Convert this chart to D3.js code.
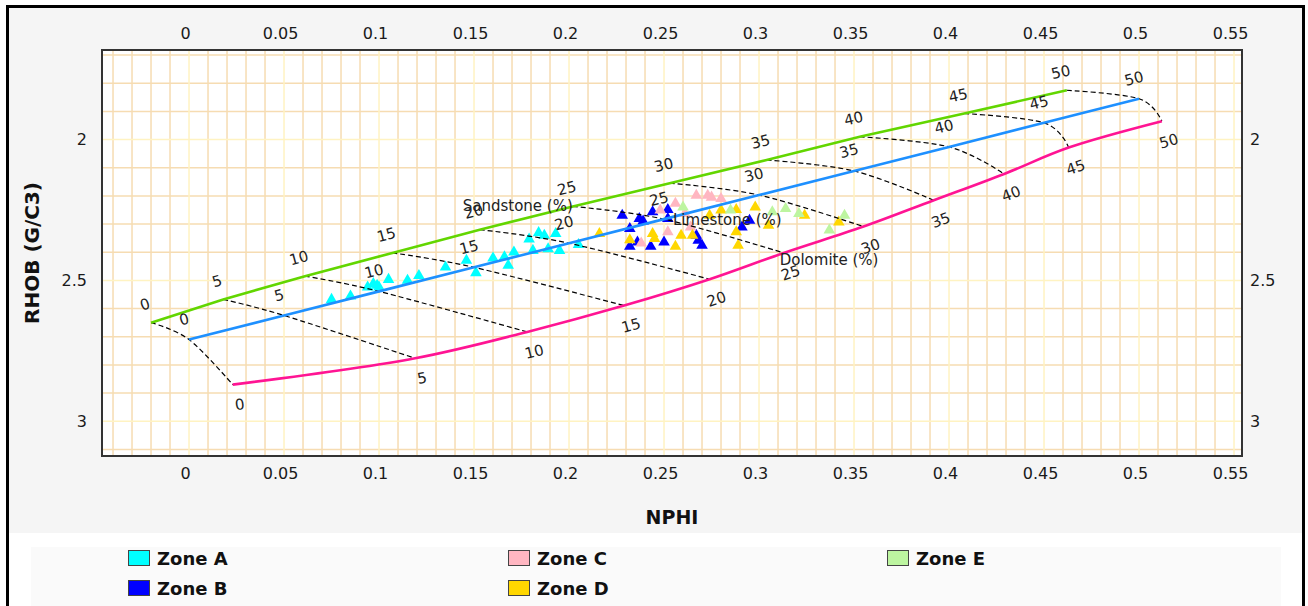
<!DOCTYPE html>
<html>
<head>
<meta charset="utf-8">
<script src="https://cdn.jsdelivr.net/npm/d3@7"></script>
<style>
  html, body { margin: 0; padding: 0; background: #ffffff; }
  svg { display: block; font-family: "DejaVu Sans", Verdana, sans-serif; }
</style>
</head>
<body>
<svg id="chart" width="1308" height="606"></svg>
<script>
// ---------------- DATA ----------------
const porosityLabels = ["0","5","10","15","20","25","30","35","40","45","50"];

const sandstoneNPHI = [-0.020, 0.018, 0.061, 0.107, 0.153, 0.202, 0.253, 0.304, 0.353, 0.408, 0.462];
const sandstoneRHOB = [2.650, 2.5675, 2.485, 2.4025, 2.320, 2.2375, 2.155, 2.0725, 1.990, 1.9075, 1.825];

const limestoneNPHI = [0.00, 0.05, 0.10, 0.15, 0.20, 0.25, 0.30, 0.35, 0.40, 0.45, 0.50];
const limestoneRHOB = [2.710, 2.6245, 2.539, 2.4535, 2.368, 2.2825, 2.197, 2.1115, 2.026, 1.9405, 1.855];

const dolomiteNPHI = [0.023, 0.119, 0.178, 0.229, 0.274, 0.313, 0.355, 0.392, 0.429, 0.463, 0.512];
const dolomiteRHOB = [2.870, 2.7765, 2.683, 2.5895, 2.496, 2.4025, 2.309, 2.2155, 2.122, 2.0285, 1.935];

const xTicks = [0, 0.05, 0.1, 0.15, 0.2, 0.25, 0.3, 0.35, 0.4, 0.45, 0.5, 0.55];
const yTicks = [2, 2.5, 3];

const zoneNames = ["Zone A", "Zone B", "Zone C", "Zone D", "Zone E"];
const zoneColors = ["#00ffff", "#0000ff", "#ffb6c1", "#ffd700", "#bdf5a0"];

const zoneA_NPHI = [0.075, 0.085, 0.094, 0.097, 0.099, 0.100, 0.105, 0.115, 0.121, 0.135, 0.146, 0.151, 0.160, 0.166, 0.168, 0.171, 0.179, 0.181, 0.184, 0.187, 0.189, 0.193, 0.195, 0.205];
const zoneA_RHOB = [2.568, 2.556, 2.524, 2.512, 2.518, 2.524, 2.497, 2.500, 2.483, 2.453, 2.429, 2.473, 2.421, 2.417, 2.447, 2.400, 2.354, 2.394, 2.331, 2.340, 2.388, 2.334, 2.394, 2.373];

const zoneB_NPHI = [0.228, 0.237, 0.239, 0.232, 0.232, 0.236, 0.243, 0.244, 0.252, 0.252, 0.250, 0.267, 0.268, 0.270, 0.291, 0.295];
const zoneB_RHOB = [2.269, 2.281, 2.290, 2.316, 2.379, 2.364, 2.379, 2.257, 2.249, 2.281, 2.364, 2.340, 2.358, 2.376, 2.311, 2.287];

const zoneC_NPHI = [0.238, 0.248, 0.256, 0.252, 0.261, 0.264, 0.267, 0.273, 0.275, 0.280];
const zoneC_RHOB = [2.368, 2.251, 2.227, 2.328, 2.262, 2.311, 2.198, 2.198, 2.205, 2.210];

const zoneD_NPHI = [0.216, 0.232, 0.244, 0.245, 0.256, 0.259, 0.265, 0.274, 0.280, 0.288, 0.298, 0.288, 0.289, 0.305, 0.324, 0.342];
const zoneD_RHOB = [2.334, 2.356, 2.334, 2.352, 2.379, 2.340, 2.340, 2.269, 2.251, 2.249, 2.240, 2.328, 2.376, 2.305, 2.269, 2.293];

const zoneE_NPHI = [0.260, 0.285, 0.307, 0.314, 0.321, 0.337, 0.345];
const zoneE_RHOB = [2.240, 2.251, 2.257, 2.245, 2.263, 2.322, 2.269];

// ---------------- LAYOUT ----------------
const svg = d3.select("#chart");
const W = 1308, H = 606;
const P = { left: 102, right: 1242, top: 50, bottom: 456 };

const x = d3.scaleLinear().domain([-0.0458, 0.5542]).range([P.left, P.right]);
const y = d3.scaleLinear().domain([1.682, 3.1235]).range([P.top, P.bottom]);

// backgrounds
svg.append("rect").attr("x", 0).attr("y", 0).attr("width", W).attr("height", H).attr("fill", "#ffffff");
svg.append("rect").attr("x", 9).attr("y", 8).attr("width", 1293).attr("height", 525).attr("fill", "#f5f5f5");
svg.append("rect").attr("x", 31).attr("y", 547).attr("width", 1250).attr("height", 70).attr("fill", "#fafafa");
svg.append("rect").attr("x", 7.5).attr("y", 6.5).attr("width", 1296).attr("height", 640)
  .attr("fill", "none").attr("stroke", "#000").attr("stroke-width", 3);

// plot area
svg.append("rect").attr("x", P.left).attr("y", P.top).attr("width", P.right - P.left).attr("height", P.bottom - P.top)
  .attr("fill", "#ffffff");

const grid = svg.append("g");
const xMinor = d3.range(-4, 56).map(d => d / 100);
const yMinor = d3.range(17, 32).map(d => d / 10);
const isMajorX = d => Math.abs(Math.round(d * 100) % 5) === 0;
const isMajorY = d => Math.abs(Math.round(d * 10) % 5) === 0;

grid.selectAll(".vx").data(xMinor.filter(d => !isMajorX(d))).join("line")
  .attr("x1", d => x(d)).attr("x2", d => x(d)).attr("y1", P.top).attr("y2", P.bottom)
  .attr("stroke", "#f6dcb2").attr("stroke-width", 1.5);
grid.selectAll(".hy").data(yMinor.filter(d => !isMajorY(d))).join("line")
  .attr("y1", d => y(d)).attr("y2", d => y(d)).attr("x1", P.left).attr("x2", P.right)
  .attr("stroke", "#f6dcb2").attr("stroke-width", 1.5);
grid.selectAll(".vxm").data(xMinor.filter(isMajorX)).join("line")
  .attr("x1", d => x(d)).attr("x2", d => x(d)).attr("y1", P.top).attr("y2", P.bottom)
  .attr("stroke", "#fff3c2").attr("stroke-width", 1.5);
grid.selectAll(".hym").data(yMinor.filter(isMajorY)).join("line")
  .attr("y1", d => y(d)).attr("y2", d => y(d)).attr("x1", P.left).attr("x2", P.right)
  .attr("stroke", "#fff3c2").attr("stroke-width", 1.5);

// ---------------- MARKERS ----------------
const zones = [
  [zoneA_NPHI, zoneA_RHOB], [zoneB_NPHI, zoneB_RHOB], [zoneC_NPHI, zoneC_RHOB],
  [zoneD_NPHI, zoneD_RHOB], [zoneE_NPHI, zoneE_RHOB]
];
const tri = d3.symbol().type(d3.symbolTriangle).size(58);
zones.forEach((z, zi) => {
  const pts = z[0].map((v, i) => [v, z[1][i]]);
  svg.append("g").selectAll("path").data(pts).join("path")
    .attr("d", tri)
    .attr("transform", d => `translate(${x(d[0])},${y(d[1])})`)
    .attr("fill", zoneColors[zi]);
});

// ---------------- LITHOLOGY LINES ----------------
const liths = [
  { n: sandstoneNPHI, r: sandstoneRHOB, color: "#62d600", curve: d3.curveLinear, off: [-6, -18] },
  { n: limestoneNPHI, r: limestoneRHOB, color: "#1e90ff", curve: d3.curveLinear, off: [-5, -20] },
  { n: dolomiteNPHI, r: dolomiteRHOB, color: "#ff1493", curve: d3.curveCatmullRom, off: [7, 20] }
];

// dashed iso-porosity lines
const dashLine = d3.line().x(d => x(d[0])).y(d => y(d[1])).curve(d3.curveCardinal);
porosityLabels.forEach((lab, i) => {
  const pts = liths.map(L => [L.n[i], L.r[i]]);
  svg.append("path").attr("d", dashLine(pts)).attr("fill", "none")
    .attr("stroke", "#000").attr("stroke-width", 1.2).attr("stroke-dasharray", "5,3");
});

liths.forEach(L => {
  const pts = L.n.map((v, i) => [v, L.r[i]]);
  const line = d3.line().x(d => x(d[0])).y(d => y(d[1])).curve(L.curve);
  svg.append("path").attr("d", line(pts)).attr("fill", "none")
    .attr("stroke", L.color).attr("stroke-width", 2.6);
});

// porosity labels along lines
liths.forEach(L => {
  const sp = L.n.map((v, i) => [x(v), y(L.r[i])]);
  porosityLabels.forEach((lab, i) => {
    const a = sp[Math.max(0, i - 1)], b = sp[Math.min(sp.length - 1, i + 1)];
    const ang = Math.atan2(b[1] - a[1], b[0] - a[0]) * 180 / Math.PI;
    svg.append("text")
      .attr("transform", `translate(${sp[i][0] + L.off[0]},${sp[i][1] + L.off[1]}) rotate(${ang})`)
      .attr("text-anchor", "middle").attr("dominant-baseline", "central")
      .attr("font-size", 15).attr("fill", "#222").text(lab);
  });
});

// lithology names
const s25 = [x(sandstoneNPHI[5]), y(sandstoneRHOB[5])];
const l25 = [x(limestoneNPHI[5]), y(limestoneRHOB[5])];
const d25 = [x(dolomiteNPHI[5]), y(dolomiteRHOB[5])];
svg.append("text").attr("x", s25[0]).attr("y", s25[1]).attr("text-anchor", "end")
  .attr("dominant-baseline", "central").attr("font-size", 15).attr("fill", "#222").text("Sandstone (%)");
svg.append("text").attr("x", l25[0] + 9).attr("y", l25[1] + 1).attr("text-anchor", "start")
  .attr("dominant-baseline", "central").attr("font-size", 15).attr("fill", "#222").text("Limestone (%)");
svg.append("text").attr("x", d25[0] - 4).attr("y", d25[1] + 7).attr("text-anchor", "start")
  .attr("dominant-baseline", "central").attr("font-size", 15).attr("fill", "#222").text("Dolomite (%)");

// plot border
svg.append("rect").attr("x", P.left).attr("y", P.top).attr("width", P.right - P.left).attr("height", P.bottom - P.top)
  .attr("fill", "none").attr("stroke", "#333").attr("stroke-width", 2);

// ---------------- AXES ----------------
const fmt = d => String(+d.toFixed(2));
function styleAxis(g) {
  g.select(".domain").remove();
  g.selectAll("text").attr("font-size", 16).attr("fill", "#1a1a1a").attr("font-family", "DejaVu Sans, Verdana, sans-serif");
}
svg.append("g").attr("transform", `translate(0,${P.top})`)
  .call(d3.axisTop(x).tickValues(xTicks).tickSize(0).tickPadding(11).tickFormat(fmt))
  .call(styleAxis).selectAll("text").attr("dx", -4);
svg.append("g").attr("transform", `translate(0,${P.bottom})`)
  .call(d3.axisBottom(x).tickValues(xTicks).tickSize(0).tickPadding(12).tickFormat(fmt))
  .call(styleAxis).selectAll("text").attr("dx", -4);
svg.append("g").attr("transform", `translate(${P.left},0)`)
  .call(d3.axisLeft(y).tickValues(yTicks).tickSize(0).tickPadding(15).tickFormat(fmt))
  .call(styleAxis);
svg.append("g").attr("transform", `translate(${P.right},0)`)
  .call(d3.axisRight(y).tickValues(yTicks).tickSize(0).tickPadding(8).tickFormat(fmt))
  .call(styleAxis);

// axis titles
svg.append("text").attr("x", (P.left + P.right) / 2).attr("y", 524).attr("text-anchor", "middle")
  .attr("font-size", 19).attr("font-weight", "bold").attr("fill", "#111").text("NPHI");
svg.append("text").attr("transform", `translate(39,${(P.top + P.bottom) / 2}) rotate(-90)`)
  .attr("text-anchor", "middle").attr("font-size", 20).attr("font-weight", "bold").attr("fill", "#111")
  .text("RHOB (G/C3)");

// ---------------- LEGEND ----------------
const legendPos = [[128, 550], [128, 580], [508, 550], [508, 580], [887, 550]];
zoneNames.forEach((name, i) => {
  const g = svg.append("g").attr("transform", `translate(${legendPos[i][0]},${legendPos[i][1]})`);
  g.append("rect").attr("x", 0.5).attr("y", 0.5).attr("width", 21).attr("height", 15)
    .attr("fill", zoneColors[i]).attr("stroke", "#444").attr("stroke-width", 1);
  g.append("text").attr("x", 29).attr("y", 15).attr("font-size", 18).attr("font-weight", "bold")
    .attr("fill", "#111").text(name);
});
</script>
</body>
</html>
